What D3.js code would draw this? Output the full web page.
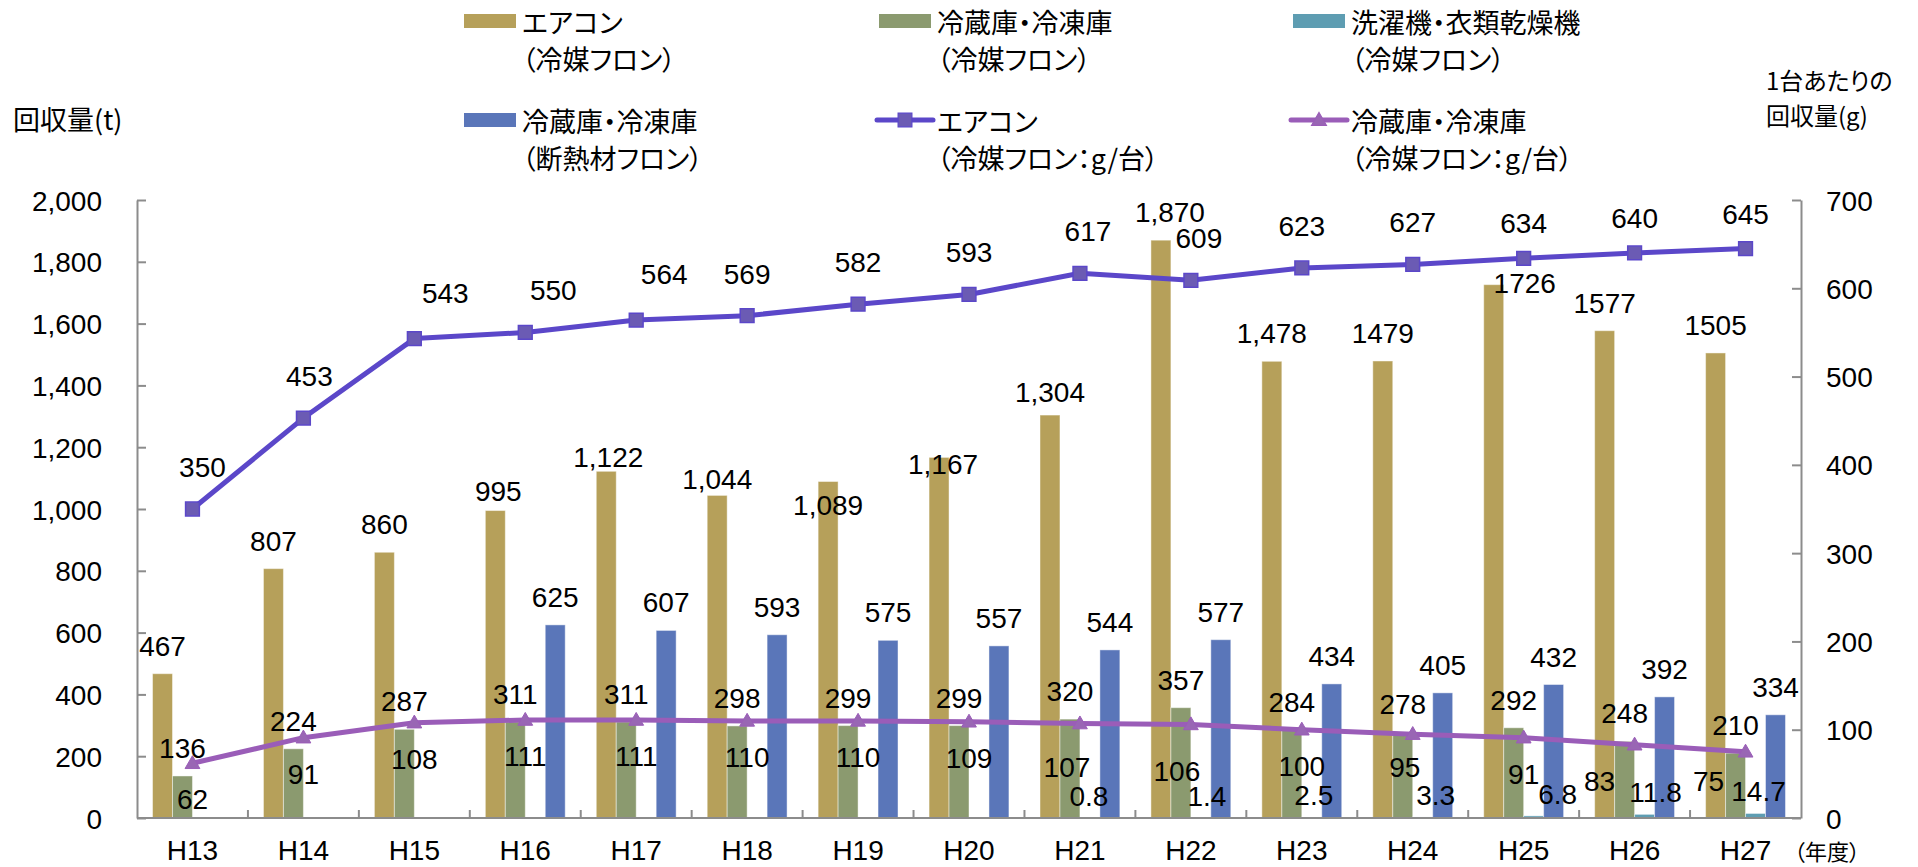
<!DOCTYPE html>
<html><head><meta charset="utf-8">
<script src="https://cdn.jsdelivr.net/npm/d3@7"></script>
<style>
body{margin:0;background:#fff;}
.jp{font-family:"Noto Sans CJK JP","Noto Sans CJK SC",sans-serif;font-feature-settings:"palt";fill:#000;}
.num{font-family:"Liberation Sans",Arial,sans-serif;fill:#000;}
</style></head><body>
<svg id="c" width="1918" height="867"></svg>
<script>
// ---------------- data ----------------
const categories = ["H13","H14","H15","H16","H17","H18","H19","H20","H21","H22","H23","H24","H25","H26","H27"];
const aircon = [467,807,860,995,1122,1044,1089,1167,1304,1870,1478,1479,1726,1577,1505];
const airconLabels = ["467","807","860","995","1,122","1,044","1,089","1,167","1,304","1,870","1,478","1479","1726","1577","1505"];
const fridge = [136,224,287,311,311,298,299,299,320,357,284,278,292,248,210];
const washer = [null,null,null,null,null,null,null,null,0.8,1.4,2.5,3.3,6.8,11.8,14.7];
const insulation = [null,null,null,625,607,593,575,557,544,577,434,405,432,392,334];
const airconPerUnit = [350,453,543,550,564,569,582,593,617,609,623,627,634,640,645];
const fridgePerUnit = [62,91,108,111,111,110,110,109,107,106,100,95,91,83,75];
const leftTicks = [0,200,400,600,800,1000,1200,1400,1600,1800,2000];
const rightTicks = [0,100,200,300,400,500,600,700];

// ---------------- layout / style ----------------
const C = {gold:"#b6a05a", green:"#8b9a6f", teal:"#5e9db2", blue:"#5a76b9",
           airLine:"#5b47c9", airMark:"#6b5bb4", friLine:"#9a5db8", friMark:"#9966b4", axis:"#8c8c8c"};
const X0 = 137, X1 = 1801, Y0 = 818, Y1 = 200;
const NUM = 28, JP = 27;
// label nudges [dx, dy] relative to default placement
const nudgeAir = {3:[3,8],4:[2,14],5:[0,12],6:[0,51],7:[4,35],8:[0,5],9:[9,0],12:[31,26]};
const nudgeAirUnit = {0:[10,0],1:[6,0],2:[31,-4],3:[28,0],4:[28,-4],8:[8,0],9:[8,0],12:[0,7],13:[0,7],14:[0,7]};
const nudgeFriUnit = {8:[-13,7],9:[-14,11],11:[-8,-3],13:[-35,0],14:[-37,-7]};
const nudgeWasher = {8:[-1,0],9:[6,0],10:[2,0],11:[13,0],12:[24,0],13:[11,0],14:[3,0]};

const svg = d3.select("#c");
const x = d3.scaleBand().domain(categories).range([X0, X1]).paddingInner(0).paddingOuter(0);
const bw = x.bandwidth();
const sub = d3.scaleBand().domain(["aircon","fridge","washer","insul"]).range([bw*0.14, bw*0.86]);
const yL = d3.scaleLinear().domain([0,2000]).range([Y0, Y1]);
const yR = d3.scaleLinear().domain([0,700]).range([Y0, Y1]);
const cx = c => x(c) + bw/2;

function numText(xc, ycenter, s, anchor){
  svg.append("text").attr("class","num").attr("x",xc).attr("y",ycenter + 0.358*NUM)
    .attr("font-size",NUM).attr("text-anchor",anchor||"middle").text(s);
}
function jpText(xp, ycenter, s, size, anchor){
  return svg.append("text").attr("class","jp").attr("x",xp).attr("y",ycenter + 0.38*size)
    .attr("font-size",size).attr("text-anchor",anchor||"start").text(s);
}
function jpText2(xp, ycenter1, gap, lines, size){
  const t = svg.append("text").attr("class","jp").attr("x",xp).attr("y",ycenter1 + 0.38*size).attr("font-size",size);
  t.append("tspan").attr("x",xp).text(lines[0]);
  t.append("tspan").attr("x",xp).attr("dy",gap).text(lines[1]);
}

// ---------------- bars ----------------
const barSeries = [
  {key:"aircon", vals:aircon, color:C.gold},
  {key:"fridge", vals:fridge, color:C.green},
  {key:"washer", vals:washer, color:C.teal},
  {key:"insul", vals:insulation, color:C.blue}
];
barSeries.forEach(s=>{
  svg.append("g").selectAll("rect").data(categories.map((c,i)=>({c,v:s.vals[i]})).filter(d=>d.v!=null))
    .join("rect")
    .attr("x",d=>x(d.c)+sub(s.key)).attr("width",sub.bandwidth())
    .attr("y",d=>yL(d.v)).attr("height",d=>Y0-yL(d.v))
    .attr("fill",s.color).attr("stroke","rgba(255,255,255,0.45)").attr("stroke-width",1);
});

// ---------------- axes ----------------
const gL = svg.append("g").attr("transform",`translate(${X0},0)`)
  .call(d3.axisLeft(yL).tickValues(leftTicks).tickSizeInner(-9).tickSizeOuter(0).tickPadding(35).tickFormat(d3.format(",")));
const gR = svg.append("g").attr("transform",`translate(${X1},0)`)
  .call(d3.axisRight(yR).tickValues(rightTicks).tickSizeInner(-9).tickSizeOuter(0).tickPadding(25).tickFormat(d3.format("d")));
[gL,gR].forEach(g=>{
  g.select(".domain").attr("stroke",C.axis).attr("stroke-width",2);
  g.selectAll(".tick line").attr("stroke",C.axis).attr("stroke-width",2);
  g.selectAll(".tick text").attr("class","num").attr("font-size",NUM).attr("dy",null)
    .attr("y",0.358*NUM).attr("fill","#000");
});
// bottom axis
svg.append("line").attr("x1",X0).attr("x2",X1).attr("y1",Y0).attr("y2",Y0)
  .attr("stroke",C.axis).attr("stroke-width",2.2);
svg.append("g").selectAll("line").data(categories.slice(1)).join("line")
  .attr("x1",d=>x(d)).attr("x2",d=>x(d)).attr("y1",Y0).attr("y2",Y0-8)
  .attr("stroke",C.axis).attr("stroke-width",2);
categories.forEach(c=>numText(cx(c), 850, c));
jpText(1794, 851.6, "（年度）", 22);

// axis titles
jpText(13, 120, "回収量(t)", JP);
jpText(1766, 81, "1台あたりの", 24);
jpText(1766, 116, "回収量(g)", 24);

// ---------------- lines ----------------
const airPts = categories.map((c,i)=>[cx(c), yR(airconPerUnit[i])]);
const friPts = categories.map((c,i)=>[cx(c), yR(fridgePerUnit[i])]);
svg.append("path").attr("d",d3.line()(airPts)).attr("fill","none").attr("stroke",C.airLine).attr("stroke-width",5).attr("stroke-linejoin","round");
svg.append("path").attr("d",d3.line()(friPts)).attr("fill","none").attr("stroke",C.friLine).attr("stroke-width",5).attr("stroke-linejoin","round");
const sq = d3.symbol().type(d3.symbolSquare).size(190);
const tri = d3.symbol().type(d3.symbolTriangle).size(95);
svg.append("g").selectAll("path").data(airPts).join("path")
  .attr("transform",d=>`translate(${d[0]},${d[1]})`).attr("d",sq())
  .attr("fill",C.airMark).attr("stroke",C.airLine).attr("stroke-width",1.5);
svg.append("g").selectAll("path").data(friPts).join("path")
  .attr("transform",d=>`translate(${d[0]},${d[1]+1})`).attr("d",tri())
  .attr("fill",C.friMark).attr("stroke",C.friLine).attr("stroke-width",1);

// ---------------- value labels ----------------
const nd = (m,i)=> m[i] || [0,0];
categories.forEach((c,i)=>{
  let n = nd(nudgeAir,i);
  numText(x(c)+sub("aircon")+sub.bandwidth()/2 + n[0], yL(aircon[i]) - 28 + n[1], airconLabels[i]);
  numText(x(c)+sub("fridge")+sub.bandwidth()/2, yL(fridge[i]) - 28, d3.format("d")(fridge[i]));
  if (insulation[i]!=null) numText(x(c)+sub("insul")+sub.bandwidth()/2, yL(insulation[i]) - 28, d3.format("d")(insulation[i]));
  if (washer[i]!=null){ n = nd(nudgeWasher,i);
    numText(x(c)+sub("washer")+sub.bandwidth()/2 + n[0], yL(washer[i]) - 22 + n[1], d3.format(".1f")(washer[i])); }
  n = nd(nudgeAirUnit,i);
  numText(cx(c)+n[0], yR(airconPerUnit[i]) - 42 + n[1], String(airconPerUnit[i]));
  n = nd(nudgeFriUnit,i);
  numText(cx(c)+n[0], yR(fridgePerUnit[i]) + 36 + n[1], String(fridgePerUnit[i]));
});

// ---------------- legend ----------------
const legend = [
  {kind:"bar", color:C.gold, lines:["エアコン","（冷媒フロン）"], col:0, row:0},
  {kind:"bar", color:C.green, lines:["冷蔵庫・冷凍庫","（冷媒フロン）"], col:1, row:0},
  {kind:"bar", color:C.teal, lines:["洗濯機・衣類乾燥機","（冷媒フロン）"], col:2, row:0},
  {kind:"bar", color:C.blue, lines:["冷蔵庫・冷凍庫","（断熱材フロン）"], col:0, row:1},
  {kind:"sq", color:C.airLine, fill:C.airMark, lines:["エアコン","（冷媒フロン：g/台）"], col:1, row:1},
  {kind:"tri", color:C.friLine, fill:C.friMark, lines:["冷蔵庫・冷凍庫","（冷媒フロン：g/台）"], col:2, row:1}
];
const colX = [464, 879, 1293], rowY = [21, 120];
legend.forEach(it=>{
  const lx = colX[it.col], ly = rowY[it.row];
  if (it.kind==="bar"){
    svg.append("rect").attr("x",lx).attr("y",ly-7).attr("width",52).attr("height",14).attr("fill",it.color);
  } else {
    svg.append("line").attr("x1",lx-2).attr("x2",lx+54).attr("y1",ly).attr("y2",ly)
      .attr("stroke",it.color).attr("stroke-width",5).attr("stroke-linecap","round");
    svg.append("path").attr("transform",`translate(${lx+26},${ly+(it.kind==="tri"?1:0)})`)
      .attr("d",(it.kind==="sq"?sq:tri)()).attr("fill",it.fill).attr("stroke",it.color).attr("stroke-width",1.2);
  }
  jpText2(lx+58, ly+2, 37, it.lines, JP);
});
</script></body></html>
